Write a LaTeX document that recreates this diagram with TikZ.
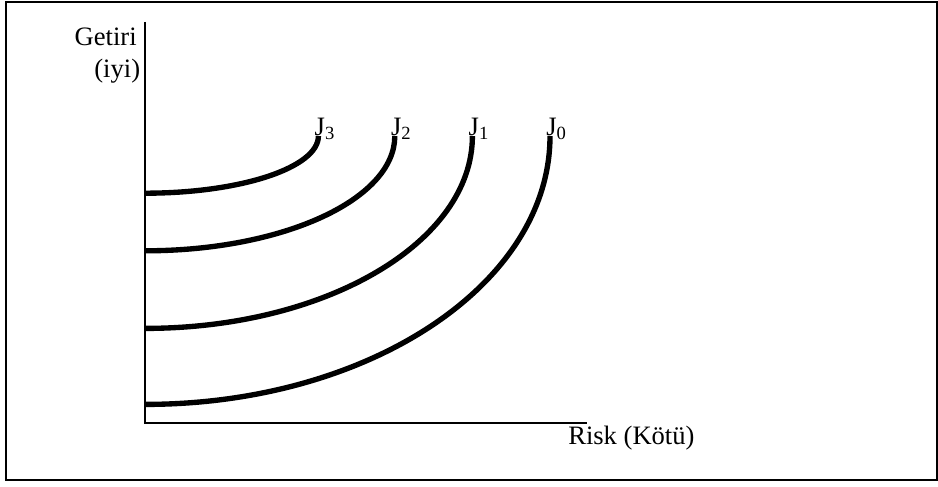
\documentclass[tikz,border=0pt]{standalone}
\usepackage{fontspec}
\setmainfont{Liberation Serif}
\usetikzlibrary{positioning}

\begin{document}
\begin{tikzpicture}[font=\fontsize{18.9}{22.7}\selectfont,
    indiff/.style={line width=3.8pt},
    axisline/.style={line width=1.8pt},
    lbl/.style={inner sep=0pt}]
        \useasboundingbox (0,0) rectangle (23.45,12.15);
        \draw[line width=1.5pt] (0.15,0.15) rectangle (23.42,12.1);
        % axes
        \coordinate (O)    at (3.63,1.57);
        \coordinate (ytop) at (3.63,11.6);
        \coordinate (xend) at (14.67,1.57);
        \draw[axisline] (ytop) -- (O) -- (xend);
        \node[lbl, anchor=base east] (getiri) at (3.425,11.01) {Getiri};
        \node[lbl, anchor=base east] (iyi)    at (3.51,10.22)  {(iyi)};
        \node[lbl, anchor=base west] (risk)   at (14.2,1.05)   {Risk (Kötü)};
        % indifference curves
        \draw[indiff] (3.63,7.32) arc[start angle=270,end angle=360,x radius=4.33,y radius=1.43] coordinate (e3);
        \draw[indiff] (3.63,5.88) arc[start angle=270,end angle=360,x radius=6.24,y radius=2.87] coordinate (e2);
        \draw[indiff] (3.63,3.94) arc[start angle=270,end angle=360,x radius=8.18,y radius=4.81] coordinate (e1);
        \draw[indiff] (3.63,2.04) arc[start angle=270,end angle=360,x radius=10.12,y radius=6.71] coordinate (e0);
        \node[lbl, anchor=base west] (j3) at ([xshift=-0.1cm]e3) {J\textsubscript{3}};
        \node[lbl, anchor=base west] (j2) at ([xshift=-0.1cm]e2) {J\textsubscript{2}};
        \node[lbl, anchor=base west] (j1) at ([xshift=-0.1cm]e1) {J\textsubscript{1}};
        \node[lbl, anchor=base west] (j0) at ([xshift=-0.1cm]e0) {J\textsubscript{0}};
      \end{tikzpicture}
\end{document}
